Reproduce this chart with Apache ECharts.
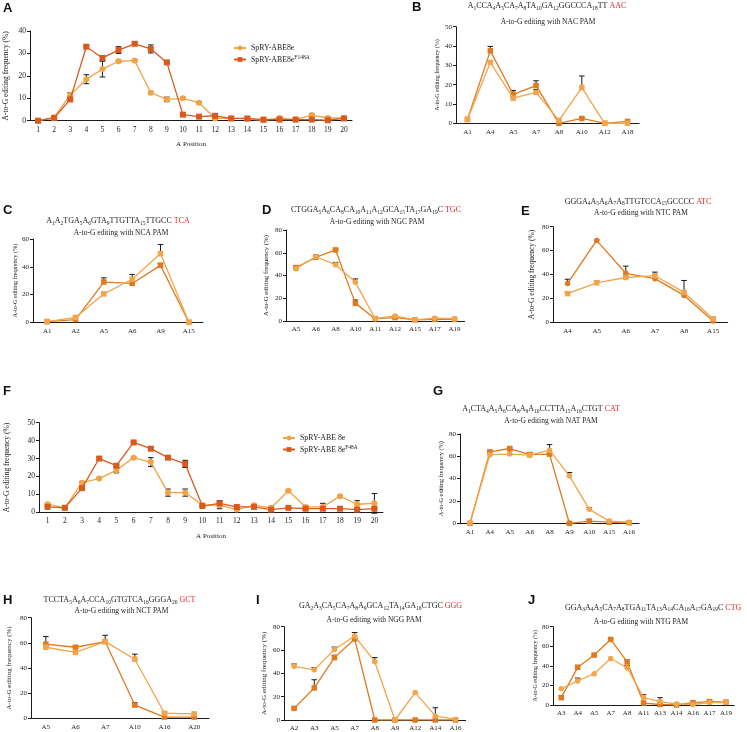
<!DOCTYPE html>
<html><head><meta charset="utf-8">
<script src="https://cdn.jsdelivr.net/npm/echarts@6/dist/echarts.min.js"></script>
<style>html,body{margin:0;padding:0;background:#fff}#c{width:747px;height:732px}</style>
</head><body><div id="c"></div>
<script>
// ---------------- DATA ----------------
// Panel A
const catA = ['1','2','3','4','5','6','7','8','9','10','11','12','13','14','15','16','17','18','19','20'];
const A_8e      = [0, 1.5, 11.5, 18.5, 23, 26.5, 26.8, 12.5, 9.5, 10, 8, 1, 1, 0.8, 0.2, 1.2, 0.5, 2.5, 1.2, 1.2];
const A_8e_err  = [0, 0.5, 1, 2, 3.5, 0.5, 0.5, 0.5, 1, 0.5, 0.5, 0.5, 0.3, 0.3, 0.3, 0.5, 0.3, 0.5, 0.5, 0.3];
const A_F148A     = [0, 1.2, 9.5, 33, 28, 31.5, 34.3, 32, 26, 2.7, 1.8, 2.2, 1, 1, 0.5, 0.5, 0.5, 0.5, 0.2, 1];
const A_F148A_err = [0, 0.3, 0.5, 0.5, 1, 1.5, 0.5, 1.8, 0.5, 0.5, 0.3, 0.8, 0.3, 0.3, 0.3, 0.3, 0.3, 0.3, 0.3, 0.3];
// Panel B
const catB = ['A1','A4','A5','A7','A8','A10','A12','A18'];
const B_dark = [2, 37.5, 15, 19.5, 0, 2.5, 0, 1];
const B_dark_err = [0, 2.3, 2, 2.5, 0, 0.5, 0, 0];
const B_light = [2, 31.5, 13, 16, 1.5, 18.5, 0, 0];
const B_light_err = [0, 1, 0.5, 1.5, 0, 6, 0, 0];
// Panel C
const catC = ['A1','A2','A5','A6','A9','A15'];
const C_dark = [0.5, 2, 29, 28, 41, 0];
const C_dark_err = [0, 0, 3, 0, 1.5, 0];
const C_light = [0.5, 3.5, 20.5, 31, 49.5, 0];
const C_light_err = [0, 0, 1, 3.5, 6.5, 0];
// Panel D
const catD = ['A5','A6','A8','A10','A11','A12','A15','A17','A19'];
const D_dark = [47, 56, 62.5, 15.5, 2, 3, 1, 1.5, 1.5];
const D_dark_err = [1, 2, 0.5, 3, 0, 0, 0, 0, 0];
const D_light = [46, 56.5, 49.5, 34, 2, 4.5, 1, 2.5, 2];
const D_light_err = [0, 0.5, 2, 3, 0, 0, 0, 0, 0];
// Panel E
const catE = ['A4','A5','A6','A7','A8','A15'];
const E_dark = [32.5, 68.5, 41, 36.5, 22.5, 1];
const E_dark_err = [3.5, 0.5, 6, 1, 1, 0];
const E_light = [24, 33, 37.5, 39, 25, 3];
const E_light_err = [1.5, 1.5, 1, 3, 10, 0];
// Panel F
const catF = ['1','2','3','4','5','6','7','8','9','10','11','12','13','14','15','16','17','18','19','20'];
const F_8e      = [4.5, 2.5, 16.5, 18.8, 23.5, 30.5, 28, 11, 11, 4, 4, 1.5, 4, 2.5, 12, 3, 3, 9, 4.5, 5];
const F_8e_err  = [0.5, 0.3, 0.5, 0.5, 1.5, 0.5, 2.5, 2, 2, 0.5, 2, 0.3, 0.5, 0.3, 0.5, 0.5, 2, 0.5, 2, 5.5];
const F_F48A     = [3, 2.5, 13.5, 30, 26, 39, 35.5, 30.5, 27, 3.5, 5, 3, 3, 1.5, 2.5, 2, 2, 2, 1.5, 2];
const F_F48A_err = [0.3, 0.3, 0.5, 1, 0.5, 0.5, 0.5, 1, 2, 0.3, 1.5, 0.3, 0.3, 0.3, 0.3, 0.3, 0.3, 0.3, 0.5, 0.5];
// Panel G
const catG = ['A1','A4','A5','A6','A8','A9','A10','A15','A16'];
const G_dark = [0, 64, 67, 61.5, 62, 0, 2, 1, 0.5];
const G_dark_err = [0, 0.5, 0.5, 2, 0.5, 0, 1.5, 0, 0];
const G_light = [0, 61.5, 62, 61, 65.5, 42.5, 12.5, 2, 1];
const G_light_err = [0, 0, 3, 2, 5, 3, 1.5, 0, 0];
// Panel H
const catH = ['A5','A6','A7','A10','A16','A20'];
const H_dark = [59, 56.5, 61, 10.5, 1, 1];
const H_dark_err = [6, 1, 0.5, 2, 0, 0];
const H_light = [56.5, 52.5, 61, 47, 4, 3.5];
const H_light_err = [1, 0.5, 5, 4, 1, 0];
// Panel I
const catI = ['A2','A3','A5','A7','A8','A9','A12','A14','A16'];
const I_dark = [10, 27.5, 53.5, 69.5, 0, 0, 0, 0, 0];
const I_dark_err = [1, 7, 2, 0.5, 0, 0, 0, 0, 0];
const I_light = [46, 43, 60.5, 72, 50, 0, 23.5, 3.5, 0.5];
const I_light_err = [2, 2, 2, 3, 3.5, 0, 0, 7, 0];
// Panel J
const catJ = ['A3','A4','A5','A7','A8','A11','A13','A14','A16','A17','A19'];
const J_dark = [7.5, 38.5, 51, 67, 44, 2, 0.5, 0, 2.5, 3.5, 3];
const J_dark_err = [2, 2, 0.5, 0.5, 2, 0, 0, 0, 0, 1.5, 0];
const J_light = [16.5, 24.5, 32, 47.5, 38, 7.5, 3.5, 1, 0.5, 2.5, 2.5];
const J_light_err = [0, 3, 0, 0, 2.5, 3, 4, 0, 0, 0, 0];

// ---------------- STYLE / LAYOUT ----------------
const ORANGE = '#F2A445', RED = '#DA5A1E';
const DARK = '#E07A1F', LIGHT = '#F2A54A';
const SERIF = 'Liberation Serif';
const yName = 'A-to-G editing frequency (%)';

const panels = [
  {L:'A', cats:catA, grid:{left:30,top:31,width:322,height:89.7}, max:40, iv:10, nf:7.5, ng:20, big:true, xName:'A Position',
   s:[{name:'SpRY-ABE8e', d:A_8e, e:A_8e_err, c:ORANGE, sym:'circle'},
      {name:'SpRY-ABE8eF148A', d:A_F148A, e:A_F148A_err, c:RED, sym:'rect'}]},
  {L:'B', cats:catB, grid:{left:456,top:26.7,width:183,height:96.6}, max:50, iv:10, nf:6, ng:16,
   s:[{name:'B1', d:B_dark, e:B_dark_err, c:DARK, sym:'rect'},{name:'B2', d:B_light, e:B_light_err, c:LIGHT, sym:'rect'}]},
  {L:'C', cats:catC, grid:{left:33,top:239,width:170,height:83.3}, max:60, iv:20, nf:6.2, ng:12,
   s:[{name:'C1', d:C_dark, e:C_dark_err, c:DARK, sym:'rect'},{name:'C2', d:C_light, e:C_light_err, c:LIGHT, sym:'rect'}]},
  {L:'D', cats:catD, grid:{left:286,top:230,width:178.5,height:91}, max:80, iv:20, nf:6.8, ng:16,
   s:[{name:'D1', d:D_dark, e:D_dark_err, c:DARK, sym:'rect'},{name:'D2', d:D_light, e:D_light_err, c:LIGHT, sym:'circle'}]},
  {L:'E', cats:catE, grid:{left:553,top:226.7,width:174.7,height:95.6}, max:80, iv:20, nf:7.5, ng:17,
   s:[{name:'E1', d:E_dark, e:E_dark_err, c:DARK, sym:'circle'},{name:'E2', d:E_light, e:E_light_err, c:LIGHT, sym:'rect'}]},
  {L:'F', cats:catF, grid:{left:39,top:422.7,width:344,height:89.6}, max:50, iv:10, nf:7.5, ng:28, big:true, xName:'A Position',
   s:[{name:'SpRY-ABE 8e', d:F_8e, e:F_8e_err, c:ORANGE, sym:'circle'},
      {name:'SpRY-ABE 8eF48A', d:F_F48A, e:F_F48A_err, c:RED, sym:'rect'}]},
  {L:'G', cats:catG, grid:{left:460,top:434,width:179,height:89.3}, max:80, iv:20, nf:6.3, ng:16,
   s:[{name:'G1', d:G_dark, e:G_dark_err, c:DARK, sym:'rect'},{name:'G2', d:G_light, e:G_light_err, c:LIGHT, sym:'circle'}]},
  {L:'H', cats:catH, grid:{left:31,top:617.7,width:178,height:100.6}, max:80, iv:20, nf:7, ng:18,
   s:[{name:'H1', d:H_dark, e:H_dark_err, c:DARK, sym:'rect'},{name:'H2', d:H_light, e:H_light_err, c:LIGHT, sym:'rect'}]},
  {L:'I', cats:catI, grid:{left:284,top:626.7,width:181.6,height:95}, max:80, iv:20, nf:7, ng:16,
   s:[{name:'I1', d:I_dark, e:I_dark_err, c:DARK, sym:'rect'},{name:'I2', d:I_light, e:I_light_err, c:LIGHT, sym:'circle'}]},
  {L:'J', cats:catJ, grid:{left:553,top:626.7,width:181.2,height:78.3}, max:80, iv:20, nf:6, ng:15,
   s:[{name:'J1', d:J_dark, e:J_dark_err, c:DARK, sym:'rect'},{name:'J2', d:J_light, e:J_light_err, c:LIGHT, sym:'circle'}]}
];

// Titles (sequence + subtitle)
const titles = [
  {x:547, y:6,   sx:548, sy:22,  seq:'A{s|1}CCA{s|4}A{s|5}CA{s|7}A{s|8}TA{s|10}GA{s|12}GGCCCA{s|18}TT {r|AAC}', sub:'A-to-G editing with NAC PAM'},
  {x:118, y:221, sx:121, sy:233, seq:'A{s|1}A{s|2}TGA{s|5}A{s|6}GTA{s|9}TTGTTA{s|15}TTGCC {r|TCA}', sub:'A-to-G editing with NCA PAM'},
  {x:376, y:210, sx:377, sy:222.5, seq:'CTGGA{s|5}A{s|6}CA{s|8}CA{s|10}A{s|11}A{s|12}GCA{s|15}TA{s|17}GA{s|19}C {r|TGC}', sub:'A-to-G editing with NGC PAM'},
  {x:638, y:201.5, sx:641, sy:213.5, seq:'GGGA{s|4}A{s|5}A{s|6}A{s|7}A{s|8}TTGTCCA{s|15}GCCCC {r|ATC}', sub:'A-to-G editing with NTC PAM'},
  {x:541, y:409, sx:551, sy:421.5, seq:'A{s|1}CTA{s|4}A{s|5}A{s|6}CA{s|8}A{s|9}A{s|10}CCTTA{s|15}A{s|16}CTGT {r|CAT}', sub:'A-to-G editing with NAT PAM'},
  {x:119.5, y:600, sx:121.5, sy:611.5, seq:'TCCTA{s|5}A{s|6}A{s|7}CCA{s|10}GTGTCA{s|16}GGGA{s|20} {r|GCT}', sub:'A-to-G editing with NCT PAM'},
  {x:380.5, y:606, sx:374, sy:620, seq:'GA{s|2}A{s|3}CA{s|5}CA{s|7}A{s|8}A{s|9}GCA{s|12}TA{s|14}GA{s|16}CTGC {r|GGG}', sub:'A-to-G editing with NGG PAM'},
  {x:565, y:607.5, sx:641, sy:622, left:true, seq:'GGA{s|3}A{s|4}A{s|5}CA{s|7}A{s|8}TGA{s|11}TA{s|13}A{s|14}CA{s|16}A{s|17}GA{s|19}C {r|CTG}', sub:'A-to-G editing with NTG PAM'}
];
const letters = [
  {t:'A', x:3, y:8}, {t:'B', x:412, y:7}, {t:'C', x:3, y:210}, {t:'D', x:262, y:210},
  {t:'E', x:521, y:211}, {t:'F', x:3, y:391}, {t:'G', x:433, y:391}, {t:'H', x:3, y:600},
  {t:'I', x:256, y:600}, {t:'J', x:528, y:600}
];

// ---------------- BUILD ----------------
function errRender(both){
  return function(params, api){
    const x = api.value(0), y = api.value(1), e = api.value(2);
    if (!e) return null;
    const t = api.coord([x, y + e]);
    const b = api.coord([x, both ? y - e : y]);
    const w = 2.8;
    const st = {stroke:'#1a1a1a', lineWidth:1};
    const ch = [
      {type:'line', shape:{x1:t[0], y1:t[1], x2:b[0], y2:b[1]}, style:st},
      {type:'line', shape:{x1:t[0]-w, y1:t[1], x2:t[0]+w, y2:t[1]}, style:st}
    ];
    if (both) ch.push({type:'line', shape:{x1:b[0]-w, y1:b[1], x2:b[0]+w, y2:b[1]}, style:st});
    return {type:'group', children:ch};
  };
}

const grid = [], xAxis = [], yAxis = [], series = [];
panels.forEach((p, gi) => {
  grid.push(Object.assign({containLabel:false}, p.grid));
  const lab = {fontFamily:SERIF, fontSize: p.big ? 7.5 : 7, color:'#222'};
  xAxis.push({
    type:'category', gridIndex:gi, data:p.cats, boundaryGap:true,
    axisLine:{lineStyle:{color:'#1a1a1a', width:1}},
    axisTick:{alignWithLabel:true, length:3, lineStyle:{color:'#1a1a1a'}},
    axisLabel:Object.assign({margin:5, interval:0}, lab),
    name:p.xName || '', nameLocation:'middle', nameGap:20,
    nameTextStyle:{fontFamily:SERIF, fontSize:7, color:'#222'}
  });
  yAxis.push({
    type:'value', gridIndex:gi, min:0, max:p.max, interval:p.iv,
    axisLine:{show:true, lineStyle:{color:'#1a1a1a', width:1}},
    axisTick:{show:true, length:3, lineStyle:{color:'#1a1a1a'}},
    splitLine:{show:false},
    axisLabel:Object.assign({margin:4}, lab),
    name:yName, nameLocation:'middle', nameGap:p.ng,
    nameTextStyle:{fontFamily:SERIF, fontSize:p.nf, color:'#222'}
  });
  const both = !!p.big;
  p.s.forEach((s, si) => {
    series.push({
      type:'custom', xAxisIndex:gi, yAxisIndex:gi, z:1, silent:true,
      renderItem:errRender(both), encode:{x:0, y:1},
      data:s.d.map((v, i) => [i, v, s.e[i]])
    });
    series.push({
      type:'line', name:s.name, xAxisIndex:gi, yAxisIndex:gi, data:s.d, z:2 + si,
      symbol:s.sym, symbolSize: p.big ? 6 : 5.5, color:s.c,
      lineStyle:{color:s.c, width:1.3}, itemStyle:{color:s.c},
      animation:false
    });
  });
});

const supRich = {
  n:{fontFamily:SERIF, fontSize:7.8, color:'#222', lineHeight:10},
  sup:{fontFamily:SERIF, fontSize:5.5, color:'#222', verticalAlign:'top', lineHeight:10}
};
function legendFmt(name){
  const m = name.match(/^(.*8e)(F\d+A)$/);
  return m ? '{n|' + m[1] + '}{sup|' + m[2] + '}' : '{n|' + name + '}';
}
const legend = [
  {left:233, top:44, padding:0, orient:'vertical', itemGap:2.5, itemWidth:12, itemHeight:6,
   data:['SpRY-ABE8e','SpRY-ABE8eF148A'], formatter:legendFmt, textStyle:{rich:supRich}},
  {left:282, top:434, padding:0, orient:'vertical', itemGap:2.5, itemWidth:12, itemHeight:6,
   data:['SpRY-ABE 8e','SpRY-ABE 8eF48A'], formatter:legendFmt, textStyle:{rich:supRich}}
];

const graphic = [];
titles.forEach(t => {
  graphic.push({type:'text', x:t.x, y:t.y, silent:true, style:{
    text:t.seq, fontFamily:SERIF, fontSize:8, fill:'#222', lineHeight:11,
    align:t.left ? 'left' : 'center', verticalAlign:'middle',
    rich:{
      s:{fontFamily:SERIF, fontSize:5.5, fill:'#222', verticalAlign:'bottom', lineHeight:11},
      r:{fontFamily:SERIF, fontSize:8, fill:'#E8262A', lineHeight:11}
    }}});
  graphic.push({type:'text', x:t.sx, y:t.sy, silent:true, style:{
    text:t.sub, fontFamily:SERIF, fontSize:7.5, fill:'#222', align:'center', verticalAlign:'middle'}});
});
letters.forEach(l => {
  graphic.push({type:'text', x:l.x, y:l.y, silent:true, style:{
    text:l.t, fontFamily:'Liberation Sans', fontWeight:'bold', fontSize:13, fill:'#111', verticalAlign:'middle'}});
});

const chart = echarts.init(document.getElementById('c'), null, {renderer:'canvas'});
chart.setOption({animation:false, backgroundColor:'#fff', grid, xAxis, yAxis, series, legend, graphic});
</script></body></html>
